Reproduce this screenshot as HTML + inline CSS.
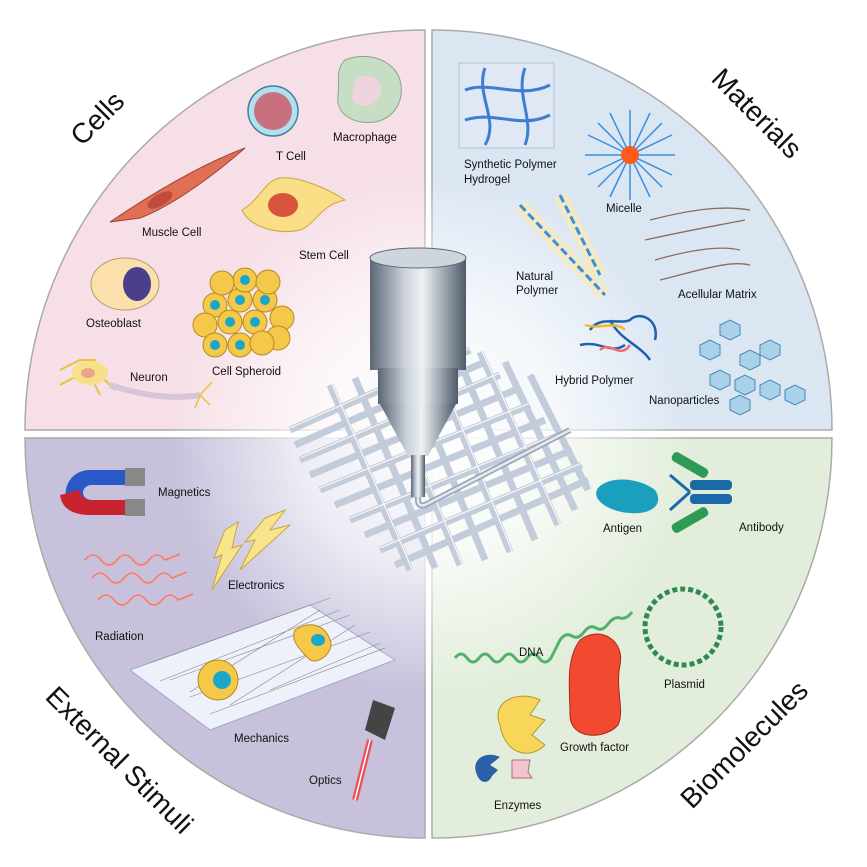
<!DOCTYPE html>
<html><head><meta charset="utf-8"><style>
html,body{margin:0;padding:0;background:#fff}
svg{display:block}
text{font-family:"Liberation Sans",sans-serif;fill:#111}
.l{font-size:11.5px}
.t{font-size:28px}
</style></head><body>
<svg width="867" height="867" viewBox="0 0 867 867">
<defs>
<radialGradient id="glow" cx="430" cy="434" r="260" gradientUnits="userSpaceOnUse">
<stop offset="0" stop-color="#fff" stop-opacity="1"/><stop offset="0.5" stop-color="#fff" stop-opacity="0.7"/><stop offset="1" stop-color="#fff" stop-opacity="0"/></radialGradient>
<linearGradient id="cyl" x1="0" x2="1"><stop offset="0" stop-color="#5a6677"/><stop offset="0.35" stop-color="#c9d0d9"/><stop offset="0.55" stop-color="#eef1f4"/><stop offset="1" stop-color="#4e5a6a"/></linearGradient>
</defs>
<path d="M425,430 L25,430 A400,400 0 0 1 425,30 Z" fill="#f6dfe7" stroke="#aaa" stroke-width="1.5"/>
<path d="M432,430 L432,30 A400,400 0 0 1 832,430 Z" fill="#dbe6f3" stroke="#aaa" stroke-width="1.5"/>
<path d="M425,438 L25,438 A400,400 0 0 0 425,838 Z" fill="#c7c1dc" stroke="#aaa" stroke-width="1.5"/>
<path d="M432,438 L832,438 A400,400 0 0 1 432,838 Z" fill="#e2eedb" stroke="#aaa" stroke-width="1.5"/>
<circle cx="430" cy="434" r="270" fill="url(#glow)"/>
<line x1="428.5" y1="30" x2="428.5" y2="838" stroke="#fff" stroke-width="5"/>
<line x1="25" y1="434" x2="832" y2="434" stroke="#fff" stroke-width="5"/>

<text class="t" transform="translate(82,147) rotate(-45)">Cells</text>
<text class="t" transform="translate(710,80) rotate(45)">Materials</text>
<text class="t" transform="translate(44,698) rotate(45)">External Stimuli</text>
<text class="t" transform="translate(692,810) rotate(-45)">Biomolecules</text>

<!-- Cells -->
<circle cx="273" cy="111" r="25" fill="#aee0ee" stroke="#4a7b9a" stroke-width="1.5"/>
<circle cx="273" cy="111" r="19" fill="#c9707f"/>
<path d="M345,60 C370,50 395,62 400,80 C405,100 395,118 375,122 C355,125 335,115 338,95 C340,80 335,70 345,60Z" fill="#c6dfc4" stroke="#8aa58a"/>
<path d="M355,80 C370,70 385,80 380,95 C375,108 358,110 352,98Z" fill="#efd3df"/>
<path d="M110,222 C150,195 200,165 245,148 C220,170 175,205 140,218Z" fill="#e07055" stroke="#a04030"/>
<ellipse cx="160" cy="200" rx="14" ry="6" transform="rotate(-30 160 200)" fill="#c04c3b"/>
<path d="M242,210 C260,200 265,180 280,178 C300,176 330,190 345,200 C320,205 315,225 300,230 C280,235 250,228 242,210Z" fill="#fbdf86" stroke="#c9a540"/>
<ellipse cx="283" cy="205" rx="15" ry="12" fill="#d8553d"/>
<ellipse cx="125" cy="284" rx="34" ry="26" fill="#fbe0ad" stroke="#b59a6a"/>
<ellipse cx="137" cy="284" rx="14" ry="17" fill="#4a3f88"/>
<g fill="#f5c84a" stroke="#b58b20">
<circle cx="215" cy="305" r="12"/><circle cx="240" cy="300" r="12"/><circle cx="265" cy="300" r="12"/><circle cx="282" cy="318" r="12"/>
<circle cx="205" cy="325" r="12"/><circle cx="230" cy="322" r="12"/><circle cx="255" cy="322" r="12"/><circle cx="278" cy="338" r="12"/>
<circle cx="215" cy="345" r="12"/><circle cx="240" cy="345" r="12"/><circle cx="262" cy="343" r="12"/><circle cx="245" cy="280" r="12"/><circle cx="222" cy="283" r="12"/><circle cx="268" cy="282" r="12"/>
</g>
<g fill="#1aa6c8"><circle cx="245" cy="280" r="5"/><circle cx="240" cy="300" r="5"/><circle cx="230" cy="322" r="5"/><circle cx="255" cy="322" r="5"/><circle cx="240" cy="345" r="5"/><circle cx="215" cy="305" r="5"/><circle cx="265" cy="300" r="5"/><circle cx="215" cy="345" r="5"/></g>
<path d="M60,370 L80,360 L95,360 L90,375 L100,395 M88,370 L60,385 M95,370 L115,390" stroke="#e6c43a" stroke-width="2" fill="none"/>
<ellipse cx="90" cy="373" rx="18" ry="12" fill="#f6e08a"/>
<ellipse cx="88" cy="373" rx="7" ry="5" fill="#e8a58a"/>
<path d="M110,385 C140,395 170,400 200,395" stroke="#d7c6d9" stroke-width="6" fill="none"/>
<path d="M200,395 L212,382 M200,395 L210,405 M200,395 L195,408" stroke="#e6c43a" stroke-width="1.5"/>
<text class="l" x="276" y="160">T Cell</text>
<text class="l" x="333" y="141">Macrophage</text>
<text class="l" x="142" y="236">Muscle Cell</text>
<text class="l" x="299" y="259">Stem Cell</text>
<text class="l" x="86" y="327">Osteoblast</text>
<text class="l" x="130" y="381">Neuron</text>
<text class="l" x="212" y="375">Cell Spheroid</text>

<!-- Materials -->
<rect x="459" y="63" width="95" height="85" fill="#dfe8f4" stroke="#b4c2d4"/>
<path d="M465,90 C490,80 520,100 550,85 M465,120 C495,110 520,130 550,115 M485,68 C475,95 500,120 485,145 M525,68 C515,95 535,120 525,145" stroke="#3d7ed0" stroke-width="3" fill="none"/>
<g stroke="#3a8ee0" stroke-width="1.5"><line x1="630" y1="155" x2="630" y2="110"/><line x1="630" y1="155" x2="630" y2="200"/><line x1="630" y1="155" x2="585" y2="155"/><line x1="630" y1="155" x2="675" y2="155"/><line x1="630" y1="155" x2="598" y2="123"/><line x1="630" y1="155" x2="662" y2="187"/><line x1="630" y1="155" x2="662" y2="123"/><line x1="630" y1="155" x2="598" y2="187"/><line x1="630" y1="155" x2="610" y2="113"/><line x1="630" y1="155" x2="650" y2="197"/><line x1="630" y1="155" x2="650" y2="113"/><line x1="630" y1="155" x2="610" y2="197"/><line x1="630" y1="155" x2="588" y2="135"/><line x1="630" y1="155" x2="672" y2="175"/><line x1="630" y1="155" x2="672" y2="135"/><line x1="630" y1="155" x2="588" y2="175"/></g>
<circle cx="630" cy="155" r="9" fill="#ff5a1a"/>
<path d="M520,205 L605,295 M560,195 L600,275" stroke="#f1e9c8" stroke-width="14"/>
<path d="M520,205 L605,295 M560,195 L600,275" stroke="#3c8fd6" stroke-width="3" stroke-dasharray="8 4"/>
<path d="M650,220 C690,210 720,205 750,210 M645,240 C690,230 720,225 745,220 M655,260 C690,250 720,245 740,250 M660,280 C700,270 730,260 750,265" stroke="#8d6e5b" stroke-width="1.3" fill="none"/>
<path d="M590,330 C600,315 620,325 630,320 C640,310 660,320 655,340 M580,345 C600,340 610,355 625,345 M610,320 C620,340 640,345 650,360" stroke="#1f5fb0" stroke-width="2.5" fill="none"/>
<path d="M585,325 C600,330 615,320 625,330" stroke="#f0b82a" stroke-width="2.5" fill="none"/>
<path d="M600,350 C610,340 620,360 630,345" stroke="#ef6c6c" stroke-width="2.5" fill="none"/>
<g fill="#a9d2ea" stroke="#4a87b3"><polygon points="720,325 730,320 740,325 740,335 730,340 720,335"/><polygon points="700,345 710,340 720,345 720,355 710,360 700,355"/><polygon points="740,355 750,350 760,355 760,365 750,370 740,365"/><polygon points="760,345 770,340 780,345 780,355 770,360 760,355"/><polygon points="710,375 720,370 730,375 730,385 720,390 710,385"/><polygon points="735,380 745,375 755,380 755,390 745,395 735,390"/><polygon points="760,385 770,380 780,385 780,395 770,400 760,395"/><polygon points="785,390 795,385 805,390 805,400 795,405 785,400"/><polygon points="730,400 740,395 750,400 750,410 740,415 730,410"/></g>
<text class="l" x="464" y="168">Synthetic Polymer</text>
<text class="l" x="464" y="183">Hydrogel</text>
<text class="l" x="606" y="212">Micelle</text>
<text class="l" x="516" y="280">Natural</text>
<text class="l" x="516" y="294">Polymer</text>
<text class="l" x="678" y="298">Acellular Matrix</text>
<text class="l" x="555" y="384">Hybrid Polymer</text>
<text class="l" x="649" y="404">Nanoparticles</text>

<!-- Scaffold -->
<g stroke="#c3ccdb" stroke-width="7" fill="none">
<path d="M290,430 L470,350 M295,445 L485,362 M300,460 L500,375 M310,475 L515,390 M320,490 L530,405 M335,505 L545,420 M350,520 L560,435 M365,535 L572,450 M380,550 L582,465 M395,565 L588,480"/>
<path d="M330,385 L410,570 M355,378 L435,568 M380,370 L460,565 M405,362 L485,560 M430,355 L510,552 M455,350 L535,540 M480,352 L558,525 M505,362 L575,510 M530,375 L588,490"/>
</g>
<g stroke="#fff" stroke-width="1.2" fill="none" opacity="0.9">
<path d="M290,428 L470,348 M300,458 L500,373 M320,488 L530,403 M350,518 L560,433 M380,548 L582,463"/>
<path d="M332,384 L412,569 M382,369 L462,564 M432,354 L512,551 M482,351 L560,524"/>
</g>
<path d="M418,490 L418,500 Q418,507 425,505 L570,430" stroke="#9aa6b6" stroke-width="6" fill="none"/>
<path d="M418,490 L418,500 Q418,507 425,505 L570,430" stroke="#e4e9f0" stroke-width="2.5" fill="none"/>
<rect x="370" y="258" width="96" height="112" fill="url(#cyl)"/>
<ellipse cx="418" cy="258" rx="48" ry="10" fill="#cfd5dc" stroke="#5a6677"/>
<rect x="378" y="368" width="80" height="36" fill="url(#cyl)"/>
<polygon points="380,404 456,404 428,456 408,456" fill="url(#cyl)"/>
<rect x="411" y="455" width="14" height="42" fill="url(#cyl)"/>

<!-- External stimuli -->
<path d="M140,470 L90,470 C60,470 55,515 90,515 L140,515 L140,500 L92,500 C80,500 80,485 92,485 L140,485Z" fill="#2b58c8"/>
<path d="M60,495 C62,510 75,515 90,515 L140,515 L140,500 L92,500 C84,500 80,495 80,490Z" fill="#c9232f"/>
<rect x="125" y="468" width="20" height="18" fill="#888"/><rect x="125" y="499" width="20" height="17" fill="#888"/>
<g stroke="#ff7a5a" stroke-width="1.6" fill="none">
<path d="M85,560 q8,-10 16,0 t16,0 t16,0 t16,0 t16,0 l15,-6"/>
<path d="M92,578 q8,-10 16,0 t16,0 t16,0 t16,0 t16,0 l15,-6"/>
<path d="M98,600 q8,-10 16,0 t16,0 t16,0 t16,0 t16,0 l15,-6"/>
</g>
<polygon points="225,530 238,522 232,548 242,545 212,590 222,555 214,558" fill="#f8e48a" stroke="#c8a640"/>
<polygon points="265,518 285,510 270,530 290,525 240,570 255,540 245,542" fill="#f8e48a" stroke="#c8a640"/>
<polygon points="130,670 310,605 395,660 210,730" fill="#eef0fa" stroke="#9aaad0"/>
<g stroke="#888" stroke-width="0.6"><path d="M150,663 L330,598 M170,680 L350,615 M190,697 L370,632 M210,714 L385,648"/><path d="M160,681 L340,610 M190,692 L320,610 M230,705 L355,625 M270,690 L380,643"/></g>
<circle cx="218" cy="680" r="20" fill="#f5c84a" stroke="#b58b20"/><circle cx="222" cy="680" r="9" fill="#1aa6c8"/>
<path d="M295,630 C310,620 325,625 330,640 C335,650 320,665 310,660 C300,650 290,640 295,630Z" fill="#f6c84a" stroke="#b58b20"/><ellipse cx="318" cy="640" rx="7" ry="6" fill="#1aa6c8"/>
<polygon points="373,700 395,708 385,740 365,730" fill="#444"/>
<line x1="370" y1="740" x2="355" y2="800" stroke="#ff2020" stroke-width="6" opacity="0.7"/>
<line x1="370" y1="740" x2="355" y2="800" stroke="#fff" stroke-width="1.5"/>
<text class="l" x="158" y="496">Magnetics</text>
<text class="l" x="228" y="589">Electronics</text>
<text class="l" x="95" y="640">Radiation</text>
<text class="l" x="234" y="742">Mechanics</text>
<text class="l" x="309" y="784">Optics</text>

<!-- Biomolecules -->
<path d="M598,488 C610,475 640,478 655,490 C665,505 650,515 630,513 C610,512 590,500 598,488Z" fill="#1a9fbf"/>
<rect x="690" y="480" width="42" height="10" rx="4" fill="#1a6aa8"/><rect x="690" y="494" width="42" height="10" rx="4" fill="#1a6aa8"/>
<path d="M690,492 L670,475 M690,492 L670,510" stroke="#1a6aa8" stroke-width="3"/>
<rect x="670" y="460" width="40" height="10" rx="4" transform="rotate(30 690 465)" fill="#2e9b55"/>
<rect x="670" y="515" width="40" height="10" rx="4" transform="rotate(-30 690 520)" fill="#2e9b55"/>
<path d="M455,658 q6,-8 12,0 t12,0 t12,0 t12,0 t12,0 t12,0 t12,0 t12,0 L560,640 q6,-8 12,-4 t12,-4 t12,-4 t12,-4 t12,-6 t12,-6" stroke="#4fb36b" stroke-width="3" fill="none"/>
<circle cx="683" cy="627" r="38" fill="none" stroke="#2f8a50" stroke-width="5" stroke-dasharray="5 3"/>
<path d="M580,640 C600,625 625,640 620,665 C615,690 625,710 618,725 C605,740 570,740 570,715 C570,690 565,660 580,640Z" fill="#f24a30" stroke="#a82a1a"/>
<path d="M500,725 C490,700 520,690 540,700 L530,715 L545,720 L532,735 L545,745 C530,760 505,755 500,725Z" fill="#f8d65a" stroke="#b5972a"/>
<path d="M477,775 C470,760 485,750 500,757 L490,765 L498,770 L492,776 C488,785 480,783 477,775Z" fill="#2b5fa8"/>
<path d="M512,760 L530,760 L528,772 L532,778 L512,778Z" fill="#f3c3cf" stroke="#a87080"/>
<text class="l" x="603" y="532">Antigen</text>
<text class="l" x="739" y="531">Antibody</text>
<text class="l" x="519" y="656">DNA</text>
<text class="l" x="664" y="688">Plasmid</text>
<text class="l" x="560" y="751">Growth factor</text>
<text class="l" x="494" y="809">Enzymes</text>
</svg>
</body></html>
